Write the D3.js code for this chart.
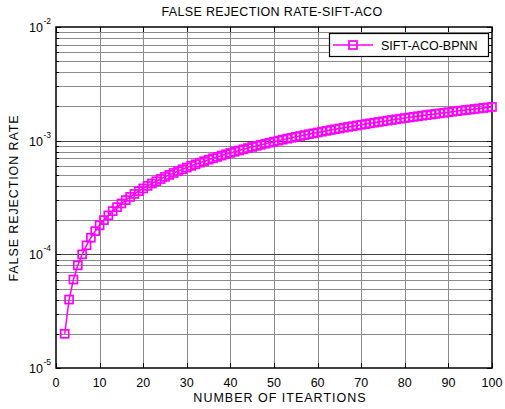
<!DOCTYPE html>
<meta charset="utf-8">
<html>
<head>
<script src="https://d3js.org/d3.v7.min.js"></script>
<style>
  body { margin: 0; background: white; }
  text { font-family: Arial, "Liberation Sans", sans-serif; fill: black; }
</style>
</head>
<body>
<div id="chart"></div>
<script>
// data
const iterations = [2,3,4,5,6,7,8,9,10,11,12,13,14,15,16,17,18,19,20,21,22,23,24,25,26,27,28,29,30,
  31,32,33,34,35,36,37,38,39,40,41,42,43,44,45,46,47,48,49,50,51,52,53,54,55,56,57,58,59,60,
  61,62,63,64,65,66,67,68,69,70,71,72,73,74,75,76,77,78,79,80,81,82,83,84,85,86,87,88,89,90,
  91,92,93,94,95,96,97,98,99,100];
const frr = [2e-5,4e-5,6e-5,8e-5,10e-5,12e-5,14e-5,16e-5,18e-5,20e-5,22e-5,24e-5,26e-5,28e-5,30e-5,
  32e-5,34e-5,36e-5,38e-5,40e-5,42e-5,44e-5,46e-5,48e-5,50e-5,52e-5,54e-5,56e-5,58e-5,
  60e-5,62e-5,64e-5,66e-5,68e-5,70e-5,72e-5,74e-5,76e-5,78e-5,80e-5,82e-5,84e-5,86e-5,88e-5,90e-5,
  92e-5,94e-5,96e-5,98e-5,100e-5,102e-5,104e-5,106e-5,108e-5,110e-5,112e-5,114e-5,116e-5,118e-5,
  120e-5,122e-5,124e-5,126e-5,128e-5,130e-5,132e-5,134e-5,136e-5,138e-5,140e-5,142e-5,144e-5,146e-5,
  148e-5,150e-5,152e-5,154e-5,156e-5,158e-5,160e-5,162e-5,164e-5,166e-5,168e-5,170e-5,172e-5,174e-5,
  176e-5,178e-5,180e-5,182e-5,184e-5,186e-5,188e-5,190e-5,192e-5,194e-5,196e-5,198e-5];
const xTicks = [0,10,20,30,40,50,60,70,80,90,100];
const yDecades = [1e-5,1e-4,1e-3,1e-2];
const yExp = ["-5","-4","-3","-2"];
const seriesName = "SIFT-ACO-BPNN";

// layout
const W = 505, H = 409;
const pL = 56, pT = 27, pR = 492, pB = 368;
const magenta = "#ff00ff";

const svg = d3.select("#chart").append("svg")
  .attr("width", W).attr("height", H);

const x = d3.scaleLinear().domain([0, 100]).range([pL, pR]);
const y = d3.scaleLog().domain([1e-5, 1e-2]).range([pB, pT]);

// minor log ticks
var minor = [];
yDecades.slice(0, 3).forEach(function(d) {
  for (var k = 2; k <= 9; k++) minor.push(d * k);
});

// grid
const grid = svg.append("g");
grid.selectAll(".vg").data(xTicks.slice(1, -1)).enter().append("line")
  .attr("x1", d => Math.round(x(d)) + 0.5).attr("x2", d => Math.round(x(d)) + 0.5)
  .attr("y1", pT).attr("y2", pB)
  .attr("stroke", "#8a8a8a").attr("stroke-width", 1);
grid.selectAll(".hg").data(minor).enter().append("line")
  .attr("x1", pL).attr("x2", pR)
  .attr("y1", d => Math.round(y(d)) + 0.5).attr("y2", d => Math.round(y(d)) + 0.5)
  .attr("stroke", "#8a8a8a").attr("stroke-width", 1);
grid.selectAll(".hd").data(yDecades.slice(1, 3)).enter().append("line")
  .attr("x1", pL).attr("x2", pR)
  .attr("y1", d => Math.round(y(d)) + 0.5).attr("y2", d => Math.round(y(d)) + 0.5)
  .attr("stroke", "#444").attr("stroke-width", 1);

// ticks (inward, both sides)
const tk = svg.append("g").attr("stroke", "black").attr("stroke-width", 1);
xTicks.forEach(function(d) {
  var xx = Math.round(x(d)) + 0.5;
  tk.append("line").attr("x1", xx).attr("x2", xx).attr("y1", pB).attr("y2", pB - 5);
  tk.append("line").attr("x1", xx).attr("x2", xx).attr("y1", pT).attr("y2", pT + 5);
});
yDecades.concat(minor).forEach(function(d) {
  var len = yDecades.indexOf(d) >= 0 ? 5 : 3;
  var yy = Math.round(y(d)) + 0.5;
  tk.append("line").attr("x1", pL).attr("x2", pL + len).attr("y1", yy).attr("y2", yy);
  tk.append("line").attr("x1", pR).attr("x2", pR - len).attr("y1", yy).attr("y2", yy);
});

// axes box
svg.append("rect")
  .attr("x", pL).attr("y", pT)
  .attr("width", pR - pL).attr("height", pB - pT)
  .attr("fill", "none").attr("stroke", "black").attr("stroke-width", 1.5);

// tick labels
svg.selectAll(".xl").data(xTicks).enter().append("text")
  .attr("x", d => x(d)).attr("y", 387)
  .attr("text-anchor", "middle").attr("font-size", 12.5)
  .text(d => d);
yDecades.forEach(function(d, i) {
  svg.append("text").attr("x", 43).attr("y", y(d) + 5)
    .attr("text-anchor", "end").attr("font-size", 12.5).text("10");
  svg.append("text").attr("x", 43.5).attr("y", y(d) - 3)
    .attr("font-size", 8.5).text(yExp[i]);
});

// titles
svg.append("text").attr("x", 272).attr("y", 16)
  .attr("text-anchor", "middle").attr("font-size", 12.5)
  .attr("letter-spacing", 0.35)
  .text("FALSE REJECTION RATE-SIFT-ACO");
svg.append("text").attr("x", 280).attr("y", 402)
  .attr("text-anchor", "middle").attr("font-size", 12.5)
  .attr("letter-spacing", 1)
  .text("NUMBER OF ITEARTIONS");
svg.append("text")
  .attr("transform", "translate(18,198) rotate(-90)")
  .attr("text-anchor", "middle").attr("font-size", 12.5)
  .attr("letter-spacing", 0.9)
  .text("FALSE REJECTION RATE");

// series
const pts = iterations.map((d, i) => [d, frr[i]]);
svg.append("path").datum(pts)
  .attr("fill", "none").attr("stroke", magenta).attr("stroke-width", 1.5)
  .attr("d", d3.line().x(d => x(d[0])).y(d => y(d[1])));
svg.selectAll(".mk").data(pts).enter().append("rect")
  .attr("x", d => x(d[0]) - 4).attr("y", d => y(d[1]) - 4)
  .attr("width", 8).attr("height", 8)
  .attr("fill", "none").attr("stroke", magenta).attr("stroke-width", 1.7);

// legend
const lg = svg.append("g");
lg.append("rect").attr("x", 329.5).attr("y", 33.5).attr("width", 159).attr("height", 23)
  .attr("fill", "white").attr("stroke", "black").attr("stroke-width", 1.2);
lg.append("line").attr("x1", 333).attr("x2", 373).attr("y1", 45).attr("y2", 45)
  .attr("stroke", magenta).attr("stroke-width", 1.5);
lg.append("rect").attr("x", 349).attr("y", 41).attr("width", 8).attr("height", 8)
  .attr("fill", "none").attr("stroke", magenta).attr("stroke-width", 1.7);
lg.append("text").attr("x", 381).attr("y", 50).attr("font-size", 12.5).text(seriesName);
</script>
</body>
</html>
